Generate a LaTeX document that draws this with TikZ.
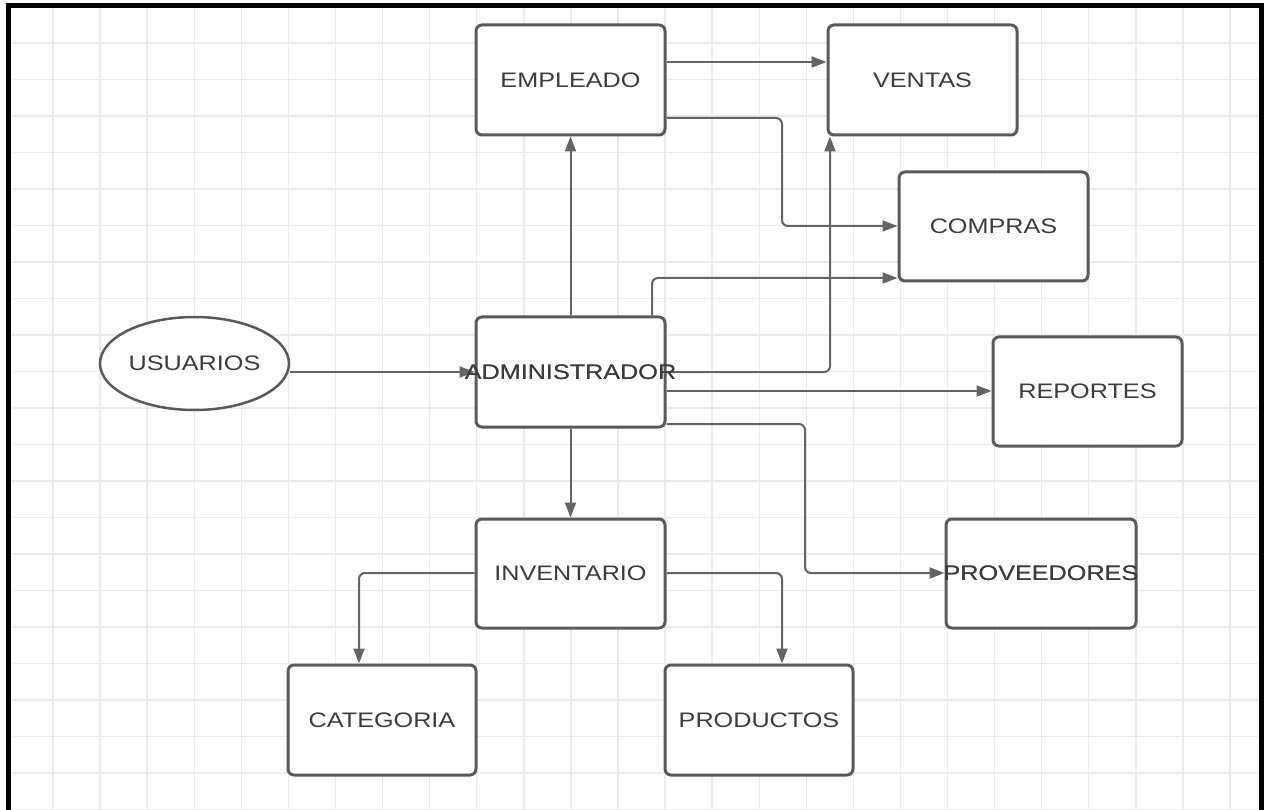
\documentclass[tikz,border=0pt]{standalone}
\usepackage{fontspec}
\setmainfont{Liberation Sans}[FakeStretch=1.2]
\usetikzlibrary{arrows.meta,calc,shapes.geometric}
\definecolor{gridc}{HTML}{EBEBEB}
\definecolor{boxc}{HTML}{5A5A5A}
\definecolor{linec}{HTML}{646464}
\definecolor{txtc}{HTML}{3C3C3C}
\newcommand{\boxlbl}[1]{\makebox[0pt]{#1}}
\tikzset{
  entity/.style={draw=boxc, line width=3pt, rounded corners=6pt, fill=white,
    minimum width=189pt, minimum height=110pt, inner sep=0pt,
    text=txtc, font=\fontsize{21}{24}\selectfont},
  actor/.style={draw=boxc, line width=2.5pt, ellipse, fill=white,
    minimum width=189pt, minimum height=93pt, inner sep=0pt,
    text=txtc, font=\fontsize{21}{24}\selectfont},
  conn/.style={draw=linec, line width=2pt, rounded corners=6pt,
    -{Triangle[length=15pt,width=11pt]}},
  lbl/.style={text=txtc, font=\fontsize{21}{24}\selectfont, inner sep=0pt},
}
\begin{document}
\begin{tikzpicture}[x=1pt,y=-1pt]
\useasboundingbox (0,0) rectangle (1264,810);
\fill[white] (0,0) rectangle (1264,810);
% grid
\foreach \k in {0,...,25} {
  \draw[gridc, line width=1.4pt] ({53+47.08*\k},8) -- ({53+47.08*\k},810);
}
\foreach \k in {0,...,21} {
  \draw[gridc, line width=1.4pt] (11,{43+36.5*\k}) -- (1259,{43+36.5*\k});
}
% frame
\draw[black, line width=5pt] (8.5,812) -- (8.5,5.5) -- (1261.5,5.5) -- (1261.5,812);

% nodes
\node[entity] (emp) at (570.5,80)   {\boxlbl{EMPLEADO}};
\node[entity] (ven) at (922.5,80)   {\boxlbl{VENTAS}};
\node[entity, minimum height=109pt] (com) at (993.5,226.5) {\boxlbl{COMPRAS}};
\node[entity, minimum height=109pt] (rep) at (1087.5,391.5) {\boxlbl{REPORTES}};
\node[entity, minimum height=109pt, minimum width=190pt] (pro) at (1041,573.5) {\boxlbl{PROVEEDORES}};
\node[entity] (adm) at (570.5,372)  {\boxlbl{ADMINISTRADOR}};
\node[entity, minimum height=109pt] (inv) at (570.5,573.5) {\boxlbl{INVENTARIO}};
\node[entity, minimum width=188pt] (cat) at (382,720)  {\boxlbl{CATEGORIA}};
\node[entity, minimum width=188pt] (prd) at (759,720)  {\boxlbl{PRODUCTOS}};
\node[actor] (usu) at (194.5,363.5) {\boxlbl{USUARIOS}};

% connectors
\draw[conn] (adm.north) -- (emp.south);
\draw[conn] (emp.east |- 0,62) -- (ven.west |- 0,62);
\draw[conn] (emp.east |- 0,118) -| (782,226) -- (com.west |- 0,226);
\draw[conn] (adm.east |- 0,372) -| (ven.south -| 830,0);
\draw[conn] (adm.north -| 652,0) |- (com.west |- 0,278);
\draw[conn] (adm.east |- 0,391) -- (rep.west |- 0,391);
\draw[conn] (adm.east |- 0,424) -| (805,573) -- (pro.west |- 0,573);
\draw[conn] (usu.east |- 0,372) -- (adm.west |- 0,372);
\draw[conn] (adm.south) -- (inv.north);
\draw[conn] (inv.west |- 0,573) -| (cat.north -| 359,0);
\draw[conn] (inv.east |- 0,573) -| (prd.north -| 782,0);

% labels redrawn on top of connectors
\node[lbl] at (adm.center) {\boxlbl{ADMINISTRADOR}};
\node[lbl] at (pro.center) {\boxlbl{PROVEEDORES}};
\end{tikzpicture}
\end{document}
